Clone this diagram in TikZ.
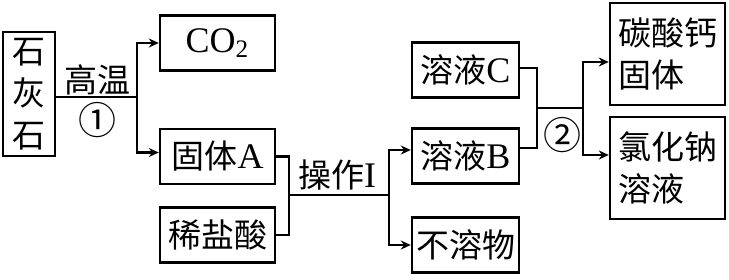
\documentclass[tikz,border=0pt]{standalone}
\usepackage{fontspec}
\setmainfont{Noto Sans CJK SC}
\newfontfamily\lat{Liberation Serif}
\usetikzlibrary{arrows.meta,positioning}

\begin{document}
\begin{tikzpicture}[
    x=0.5pt, y=-0.5pt,
    font=\fontsize{16.5}{21}\selectfont,
    box/.style={rectangle, draw, line width=1.2pt, inner sep=0pt},
    nbox/.style={box, minimum width=57.5pt, minimum height=27.5pt},
    sbox/.style={box, minimum width=53.5pt, minimum height=27.5pt},
    tbox/.style={box, minimum width=57.5pt, minimum height=51pt, align=left},
    line/.style={line width=1.2pt},
    arr/.style={line, -{Stealth[length=5pt, width=4.5pt]}},
    lbl/.style={inner sep=1pt}
]
\useasboundingbox (0,0) rectangle (729,279);

% boxes
\node[box, minimum width=26pt, minimum height=62pt, align=center] (lime) at (29,94) {石\\灰\\石};
\node[nbox] (co2) at (217.5,43) {\lat\fontsize{18}{21}\selectfont CO\textsubscript{2}};
\node[nbox] (solidA) at (217.5,156.5) {固体{\lat\fontsize{18}{21}\selectfont A}};
\node[nbox] (acid) at (217.5,235) {稀盐酸};
\node[sbox] (solC) at (465.5,70) {溶液{\lat\fontsize{18}{21}\selectfont C}};
\node[sbox] (solB) at (465.5,156) {溶液{\lat\fontsize{18}{21}\selectfont B}};
\node[sbox] (insol) at (465.5,245) {不溶物};
\node[tbox] (caco3) at (667.5,54) {碳酸钙\\固体};
\node[tbox] (nacl) at (667.5,168) {氯化钠\\溶液};

% junctions
\coordinate (j1) at (137,97);
\coordinate (j2) at (289,195);
\coordinate (j3) at (389,195);
\coordinate (j4) at (537,108);
\coordinate (j5) at (583,108);

% connectors
\draw[line] (lime.east |- j1) -- (j1);
\draw[arr] (j1) |- (co2);
\draw[arr] (j1) |- ([yshift=2pt]solidA.west);
\draw[line] (solidA.east) -| (j2) |- (acid.east);
\draw[line] (j2) -- (j3);
\draw[arr] (j3) |- ([yshift=3pt]solB.west);
\draw[arr] (j3) |- (insol);
\draw[line] ([yshift=1pt]solC.east) -| (j4) |- ([yshift=4pt]solB.east);
\draw[line] (j4) -- (j5);
\draw[arr] (j5) |- ([yshift=-4pt]caco3.west);
\draw[arr] (j5) |- ([yshift=6.5pt]nacl.west);

% labels
\node[lbl] (heat) at (97,80) {高温};
\node[lbl, font=\fontsize{19}{21}\selectfont] (step1) at (97,120) {①};
\node[lbl] (op) at (337,175) {操作{\lat\fontsize{18}{21}\selectfont I}};
\node[lbl, font=\fontsize{19}{21}\selectfont] (step2) at (562,135) {②};

\end{tikzpicture}
\end{document}
